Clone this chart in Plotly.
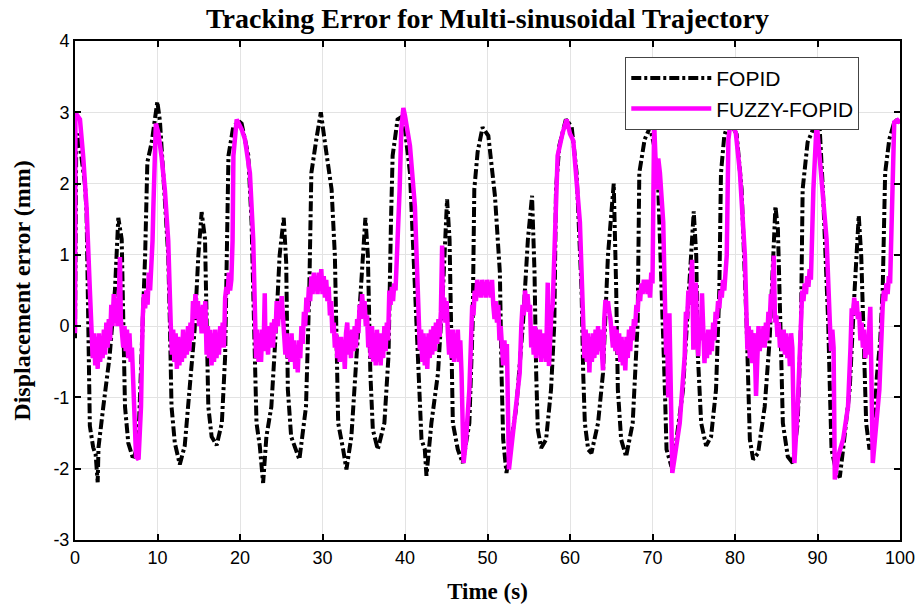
import plotly.graph_objects as go

# FOPID tracking error (black dash-dot)
fopid_t = [0.0, 0.15, 0.4, 1.2, 1.4, 1.6, 1.8, 2.2, 2.5, 2.75, 2.85, 3.4, 4.2, 4.85, 5.25, 5.66, 5.9, 6.06, 6.46, 7.07,
           7.67, 8.08, 8.5, 8.77, 9.3, 9.98, 10.3, 10.9, 11.3, 11.5, 11.7, 12.1, 12.7, 13.3, 13.9, 14.5, 14.95, 15.35, 15.76, 15.96,
           16.16, 16.56, 17.17, 17.8, 18.2, 18.4, 18.6, 19.2, 20.0, 20.2, 21.0, 21.4, 21.8, 22.0, 22.4, 22.8, 23.2, 23.8, 24.4, 24.8,
           25.3, 25.6, 25.8, 26.2, 27.2, 28.0, 28.4, 28.65, 29.25, 29.8, 30.3, 31.1, 31.5, 31.7, 31.9, 32.5, 32.9, 33.5, 34.1, 34.7,
           35.2, 35.5, 35.8, 36.1, 36.7, 37.5, 38.0, 38.3, 38.5, 39.1, 39.8, 40.6, 41.4, 41.8, 42.0, 42.4, 42.6, 43.2, 44.0, 44.6,
           45.1, 45.4, 45.6, 45.8, 46.4, 47.0, 47.8, 48.2, 48.4, 48.8, 49.4, 50.1, 50.9, 51.5, 51.7, 51.9, 52.3, 52.7, 53.5, 54.3,
           54.9, 55.4, 55.7, 55.9, 56.1, 56.5, 57.1, 57.7, 58.1, 58.3, 58.7, 59.5, 60.2, 60.8, 61.4, 61.6, 61.8, 62.2, 62.6, 63.4,
           64.0, 64.6, 65.3, 65.6, 65.8, 66.2, 66.8, 67.6, 68.2, 68.4, 69.05, 69.7, 70.2, 70.7, 71.3, 71.5, 71.7, 72.3, 72.9, 73.7,
           74.3, 75.0, 75.3, 75.5, 75.9, 76.5, 77.1, 77.7, 78.1, 78.3, 78.7, 79.3, 80.2, 80.8, 81.4, 81.6, 81.8, 82.2, 82.8, 83.6,
           84.2, 84.9, 85.2, 85.6, 85.8, 86.4, 87.0, 87.6, 88.0, 88.2, 88.8, 89.45, 90.25, 90.65, 91.3, 91.5, 91.7, 92.3, 92.7, 93.1,
           93.9, 94.5, 95.0, 95.3, 95.6, 95.9, 96.3, 96.8, 97.2, 97.6, 97.9, 98.2, 98.7, 99.3, 99.7, 100.0]
fopid_e = [-0.17, 2.6, 2.7, 2.0, 1.6, 0.3, -1.4, -1.7, -1.8, -2.19, -1.7, -1.16, -0.42, 0.52, 1.52, 1.22, 0.04, -1.13, -1.64, -1.87,
           -1.64, -0.42, 0.99, 2.3, 2.58, 3.15, 2.87, 1.75, 0.99, 0.04, -1.13, -1.64, -1.94, -1.68, -0.89, -0.05, 0.99, 1.6, 1.22, 0.04,
           -1.13, -1.55, -1.67, -1.36, -0.42, 0.99, 2.39, 2.81, 2.86, 2.84, 2.4, 1.46, -0.42, -1.36, -1.68, -2.2, -1.55, -1.13, 0.04, 0.99,
           1.52, 0.89, -0.89, -1.55, -1.87, -1.13, 0.51, 2.15, 2.62, 3.0, 2.57, 1.92, 0.99, -0.42, -1.36, -1.73, -2.01, -1.55, -0.42, 0.75,
           1.52, 0.99, -0.66, -1.45, -1.73, -1.36, -0.42, 1.46, 2.39, 2.9, 2.95, 2.15, 0.04, -0.89, -1.59, -1.73, -2.1, -1.36, -0.66, 0.51,
           1.78, 1.22, -0.42, -1.36, -1.73, -1.92, -1.36, 0.04, 1.92, 2.44, 2.79, 2.67, 1.83, 0.75, -0.66, -1.59, -2.06, -1.73, -1.13, 0.04,
           1.22, 1.83, 0.75, -0.66, -1.45, -1.71, -1.59, -0.89, 0.04, 1.92, 2.53, 2.9, 2.8, 2.15, 0.51, -0.66, -1.36, -1.73, -1.78, -1.36,
           -0.66, 0.99, 2.0, 0.51, -0.89, -1.59, -1.83, -1.36, 0.04, 2.15, 2.62, 2.79, 2.53, 1.92, 0.04, -0.89, -1.73, -1.97, -1.59, -0.89,
           0.28, 1.61, 0.99, -0.42, -1.36, -1.68, -1.55, -0.89, 0.51, 2.15, 2.67, 2.89, 2.69, 1.92, 0.04, -0.89, -1.59, -1.87, -1.78, -1.13,
           -0.19, 1.68, 1.36, -0.42, -1.36, -1.83, -1.92, -1.36, 0.04, 1.92, 2.58, 2.76, 2.81, 1.92, 0.04, -0.89, -1.73, -2.06, -2.12, -1.73,
           -0.89, 0.51, 1.55, 0.99, -0.42, -1.36, -1.73, -1.5, -0.7, -0.2, 0.51, 2.15, 2.62, 2.86, 2.9, 2.85]

# FUZZY-FOPID tracking error (magenta solid), one row per stretch of the record
fuzzy_t = [
    0.0, 0.05, 0.3, 0.6, 1.0, 1.4, 1.8, 2.0,
    2.15, 2.3, 2.45, 2.6, 2.75, 2.9, 3.05, 3.2, 3.35, 3.5, 3.65, 3.8, 3.95, 4.1, 4.25, 4.4, 4.55, 4.7, 4.85, 5.0, 5.15, 5.3,
    5.45, 5.55, 5.7, 5.85, 6.0, 6.15, 6.3, 6.45, 6.6, 6.75, 6.9, 7.05, 7.4, 7.7, 8.0, 8.2, 8.35, 8.5, 8.65, 8.8,
    8.95, 9.1, 9.25, 9.4, 9.5, 9.8,
    10.1, 10.5, 10.9, 11.3, 11.6, 11.75, 11.9, 12.05, 12.2, 12.35, 12.5, 12.65, 12.8, 12.95, 13.1, 13.25, 13.4, 13.55, 13.7, 13.85,
    14.0, 14.15, 14.3, 14.45, 14.6, 14.75, 14.9, 15.05, 15.2, 15.35, 15.5, 15.65, 15.8, 15.95, 16.1, 16.25, 16.4, 16.55, 16.7, 16.85,
    17.0, 17.15, 17.3, 17.45, 17.6, 17.75, 17.9, 18.05, 18.2, 18.35, 18.5, 18.65, 18.8, 18.95, 19.1, 19.2, 19.6,
    20.2, 20.6, 21.2, 21.6, 21.8, 21.95, 22.1, 22.25, 22.4, 22.55, 22.7, 22.85, 23.0, 23.1, 23.25, 23.4, 23.55, 23.7, 23.85, 24.0,
    24.15, 24.3, 24.45, 24.6, 24.75, 24.9, 25.05, 25.2, 25.35, 25.5, 25.65, 25.8, 25.95, 26.1, 26.25, 26.4, 26.55, 26.7, 26.85, 27.0,
    27.15, 27.3, 27.45, 27.6, 27.75, 27.9, 28.05, 28.2, 28.35, 28.5, 28.65, 28.8, 28.95, 29.1, 29.25, 29.4, 29.55, 29.7, 29.85,
    30.0, 30.15, 30.3, 30.45, 30.6, 30.75, 30.9, 31.05, 31.2, 31.35, 31.5, 31.65, 31.8, 31.95, 32.1, 32.25, 32.4, 32.55, 32.7, 32.85,
    33.0, 33.15, 33.3, 33.45, 33.6, 33.75, 33.9, 34.05, 34.2, 34.35, 34.5, 34.65, 34.8, 34.95, 35.1, 35.25, 35.4, 35.55, 35.7, 35.85,
    36.0, 36.15, 36.3, 36.45, 36.6, 36.75, 36.9, 37.05, 37.2, 37.35, 37.5, 37.65, 37.8, 37.95, 38.1, 38.25, 38.4, 38.55, 38.7, 38.85,
    39.0, 39.2, 39.35, 39.55, 39.8,
    40.0, 40.6, 41.2, 41.6, 41.8, 41.95, 42.1, 42.25, 42.4, 42.55, 42.7, 42.85, 43.0, 43.15, 43.3, 43.45, 43.6, 43.75, 43.9, 44.05,
    44.2, 44.35, 44.5, 44.6, 44.75, 44.9, 45.05, 45.2, 45.35, 45.5, 45.65, 45.8, 45.95, 46.1, 46.25, 46.4, 46.55, 46.7, 46.85, 47.1,
    47.4, 47.8, 48.0, 48.15, 48.3, 48.45, 48.6, 48.75, 48.9, 49.05, 49.2, 49.35, 49.5, 49.65, 49.8, 49.95,
    50.1, 50.25, 50.4, 50.55, 50.7, 50.85, 51.0, 51.15, 51.3, 51.45, 51.6, 51.75, 51.9, 52.05, 52.2, 52.35, 52.6, 53.0, 53.5, 53.9,
    54.1, 54.25, 54.4, 54.55, 54.7, 54.85, 55.0, 55.15, 55.3, 55.45, 55.6, 55.75, 55.9, 56.05, 56.2, 56.35, 56.5, 56.65, 56.8, 56.95,
    57.1, 57.3, 57.45, 57.6, 57.75, 57.9, 58.05, 58.25, 58.5, 59.1, 59.6,
    60.0, 60.4, 61.2, 61.6, 61.75, 61.9, 62.05, 62.2, 62.35, 62.5, 62.65, 62.8, 62.95, 63.1, 63.25, 63.4, 63.55, 63.7, 63.85, 64.0,
    64.15, 64.3, 64.45, 64.6, 64.75, 64.9, 65.05, 65.2, 65.35, 65.5, 65.65, 65.8, 65.95, 66.1, 66.25, 66.4, 66.55, 66.7, 66.85, 67.0,
    67.15, 67.3, 67.45, 67.6, 67.75, 67.9, 68.05, 68.2, 68.35, 68.5, 68.65, 68.8, 68.95, 69.1, 69.25, 69.4, 69.55, 69.7, 69.85,
    70.0, 70.2, 70.5, 70.7, 70.9, 71.3, 71.5, 71.65, 71.8, 71.9, 72.05, 72.2, 72.4, 72.7, 73.3, 73.9, 74.05, 74.2, 74.35, 74.5,
    74.65, 74.8, 74.95, 75.1, 75.25, 75.4, 75.55, 75.7, 75.85, 76.0, 76.15, 76.3, 76.45, 76.6, 76.75, 76.9, 77.05, 77.2, 77.35, 77.5,
    77.65, 77.8, 77.95, 78.1, 78.25, 78.4, 78.55, 78.7, 78.85, 79.0, 79.2, 79.5,
    80.1, 80.6, 81.2, 81.5, 81.65, 81.8, 81.95, 82.1, 82.25, 82.4, 82.55, 82.7, 82.85, 83.0, 83.15, 83.3, 83.45, 83.6, 83.75, 83.9,
    84.05, 84.2, 84.35, 84.5, 84.7, 84.85, 85.0, 85.15, 85.3, 85.45, 85.6, 85.75, 85.9, 86.05, 86.2, 86.35, 86.5, 86.65, 86.8, 86.95,
    87.2, 87.6, 88.0, 88.15, 88.3, 88.45, 88.6, 88.75, 88.9, 89.05, 89.2, 89.35, 89.5, 89.9,
    90.25, 90.7, 91.1, 91.5, 91.65, 91.8, 91.95, 92.1, 92.5, 93.1, 93.7, 94.0, 94.15, 94.3, 94.45, 94.6, 94.75, 94.9, 95.05, 95.2,
    95.35, 95.5, 95.65, 95.8, 95.95, 96.1, 96.25, 96.4, 96.7, 97.0, 97.5, 97.9, 98.05, 98.2, 98.35, 98.5, 98.65, 98.8, 99.0, 99.3,
    99.7, 100.0]
fuzzy_e = [
    -0.1, 3.0, 2.95, 2.9, 2.37, 1.67, 0.51, 0.04,
    -0.45, -0.1, -0.55, -0.15, -0.6, -0.1, -0.5, -0.15, -0.45, -0.05, -0.4, 0.05, -0.3, 0.1, -0.2, 0.3, 0.0, 0.45, 0.05, 0.4, 0.0, 0.35,
    0.97, 0.1, -0.1, -0.3, 0.0, -0.35, -0.05, -0.45, -0.1, -0.5, -0.3, -0.8, -1.83, -1.87, -1.13, 0.1, 0.45, 0.25, 0.5, 0.3,
    0.75, 0.5, 0.8, 1.2, 1.68, 2.84,
    2.71, 2.37, 1.9, 1.2, 0.04, -0.4, -0.05, -0.5, -0.1, -0.6, -0.15, -0.55, -0.2, -0.5, -0.05, -0.45, -0.1, -0.4, 0.0, -0.35,
    0.05, -0.2, 0.35, 0.1, 0.45, 0.2, 0.35, 0.0, 0.2, -0.1, 0.3, 0.05, 0.35, -0.4, 0.0, -0.45, -0.05, -0.55, -0.1, -0.5,
    -0.05, -0.45, -0.1, -0.4, 0.0, -0.3, 0.05, -0.3, 0.4, 0.55, 0.45, 0.75, 0.5, 0.65, 1.2, 2.39, 2.9,
    2.76, 2.62, 2.15, 1.22, 0.04, -0.45, -0.05, -0.5, -0.1, -0.5, -0.05, -0.35, 0.46, -0.35, -0.05, -0.4, 0.0, -0.3, 0.05, -0.3,
    0.1, -0.1, 0.35, 0.0, 0.3, 0.1, 0.42, 0.05, -0.1, -0.4, -0.1, -0.45, -0.15, -0.5, -0.1, -0.5, -0.2, -0.6, -0.3, -0.65,
    -0.2, -0.45, 0.0, -0.25, 0.2, 0.0, 0.4, 0.2, 0.55, 0.35, 0.7, 0.45, 0.75, 0.5, 0.7, 0.45, 0.75, 0.5, 0.8,
    0.45, 0.7, 0.4, 0.65, 0.35, 0.55, 0.15, 0.35, -0.1, 0.05, -0.3, -0.1, -0.45, -0.2, -0.5, -0.15, -0.45, -0.2, -0.6, -0.1,
    0.05, -0.4, -0.1, -0.45, -0.05, -0.35, 0.0, -0.3, 0.1, -0.1, 0.3, 0.1, 0.45, 0.2, 0.35, 0.0, 0.15, -0.3, -0.05, -0.45,
    0.0, -0.5, -0.1, -0.55, -0.05, -0.5, -0.1, -0.55, -0.1, -0.45, 0.0, -0.35, 0.05, -0.2, 0.5, 0.3, 0.55, 0.35, 0.6, 0.5,
    0.9, 1.5, 1.92, 2.76, 3.06,
    2.95, 2.53, 1.68, 0.51, -0.33, -0.05, -0.5, -0.1, -0.55, -0.15, -0.6, -0.1, -0.45, -0.05, -0.4, 0.0, -0.35, 0.05, -0.25, 0.1,
    -0.15, 0.2, 1.13, 0.1, 0.4, 0.05, 0.35, -0.1, -0.4, -0.05, -0.45, -0.05, -0.5, -0.1, -0.45, -0.05, -0.5, -0.2, -0.65, -1.92,
    -1.59, -0.89, -0.2, 0.3, 0.15, 0.5, 0.35, 0.65, 0.45, 0.6, 0.4, 0.65, 0.45, 0.6, 0.4, 0.65,
    0.45, 0.6, 0.4, 0.65, 0.3, 0.1, 0.35, 0.05, 0.3, -0.2, 0.0, -0.4, -0.55, -0.2, -0.5, -0.25, -2.01, -1.59, -1.13, -0.66,
    0.0, 0.3, 0.15, 0.5, 0.3, 0.45, 0.2, 0.3, -0.3, -0.05, -0.4, 0.0, -0.45, -0.05, -0.4, -0.05, -0.5, -0.1, -0.45, -0.1,
    -0.5, 0.61, -0.56, -0.1, 0.2, 0.3, 0.8, 1.46, 2.39, 2.71, 2.9,
    2.7, 2.6, 1.46, 0.04, -0.45, -0.05, -0.5, -0.1, -0.65, -0.15, -0.5, -0.1, -0.45, -0.05, -0.4, 0.0, -0.35, -0.05, -0.45, -0.62,
    0.1, 0.37, 0.2, 0.35, 0.2, 0.1, -0.1, -0.3, 0.0, -0.35, -0.05, -0.4, -0.1, -0.5, -0.15, -0.55, -0.2, -0.62, -0.15, -0.45,
    -0.05, -0.35, 0.0, -0.2, 0.1, 0.0, 0.3, 0.2, 0.5, 0.35, 0.6, 0.45, 0.65, 0.5, 0.65, 0.45, 0.6, 0.4, 0.75,
    0.6, 2.86, 1.92, 2.35, 2.15, 1.46, 0.04, -0.4, -0.2, -1.0, 0.18, -1.3, -2.06, -1.83, -1.36, -0.42, 0.2, 0.1, 0.5, 0.3,
    0.6, 0.93, -0.33, 0.2, 0.61, 0.0, -0.42, 0.1, -0.2, 0.46, -0.1, -0.52, -0.1, -0.45, -0.05, -0.4, -0.05, -0.35, 0.05, -0.2,
    0.2, 0.1, 0.35, 0.25, 0.5, 0.4, 0.65, 0.5, 0.75, 0.99, 2.62, 2.9,
    2.71, 2.15, 0.99, -0.33, 0.0, -0.45, -0.05, -0.52, -0.1, -0.3, -0.98, -0.1, 0.0, -0.35, -0.05, -0.3, 0.0, -0.3, 0.05, -0.2,
    0.2, 0.05, 0.45, 0.3, 0.99, 0.05, 0.15, -0.15, 0.05, -0.3, -0.05, -0.35, -0.05, -0.4, -0.1, -0.45, -0.15, -0.56, -0.1, -0.3,
    -1.92, -1.13, 0.28, 0.5, 0.35, 0.6, 0.45, 0.7, 0.55, 0.8, 0.65, 1.2, 1.92, 2.86,
    2.39, 1.92, 1.22, 0.04, -0.35, -0.05, -0.3, -2.15, -1.83, -1.59, -1.13, -0.3, 0.25, 0.15, 0.4, 0.2, 0.35, 0.1, 0.2, -0.2,
    0.05, -0.3, -0.05, -0.45, -0.2, -0.4, 0.1, 0.27, -1.92, -1.59, -0.89, 0.28, 0.5, 0.35, 0.6, 0.45, 0.7, 0.6, 1.46, 2.86,
    2.89, 2.85]

x_ticks = [0, 10, 20, 30, 40, 50, 60, 70, 80, 90, 100]
y_ticks = [-3, -2, -1, 0, 1, 2, 3, 4]
y_labels = ['-3', '-2', '-1', '0', '1', '2', '3', '4']

fig = go.Figure()

fig.add_trace(go.Scatter(name='FOPID', x=fopid_t, y=fopid_e, mode='lines',
                         line=dict(color='black', width=4, dash='10px,3px,3px,3px')))
fig.add_trace(go.Scatter(name='FUZZY-FOPID', x=fuzzy_t, y=fuzzy_e, mode='lines',
                         line=dict(color='#ff00ff', width=4.5)))

serif = "Liberation Serif, Times New Roman, serif"
sans = "Liberation Sans, Arial, sans-serif"

fig.update_layout(
    width=917, height=605,
    margin=dict(l=75, r=17, t=41, b=65),
    paper_bgcolor='white', plot_bgcolor='white',
    title=dict(text="<b>Tracking Error for Multi-sinusoidal Trajectory</b>",
               x=0.5, xref='paper', xanchor='center', y=0.97, yanchor='middle',
               font=dict(family=serif, size=28, color='black')),
    legend=dict(x=0.667, y=0.968, xanchor='left', yanchor='top',
                bgcolor='white', bordercolor='#444444', borderwidth=1,
                font=dict(family=sans, size=21, color='black'),
                itemwidth=80, tracegroupgap=0),
)

fig.update_xaxes(range=[0, 100], tickvals=x_ticks, ticks='inside', ticklen=6, tickwidth=1.5,
                 tickcolor='black', showline=True, linecolor='black', linewidth=2, mirror='ticks',
                 showgrid=True, gridcolor='#e3e3e3', gridwidth=1, zeroline=False, automargin=False,
                 tickfont=dict(family=sans, size=18, color='black'),
                 title=dict(text="<b>Time (s)</b>", font=dict(family=serif, size=23, color='black'), standoff=16))
fig.update_yaxes(range=[-3, 4], tickvals=y_ticks, ticktext=y_labels, ticks='inside', ticklen=6, tickwidth=1.5,
                 tickcolor='black', showline=True, linecolor='black', linewidth=2, mirror='ticks',
                 showgrid=True, gridcolor='#e3e3e3', gridwidth=1, zeroline=False, automargin=False,
                 tickfont=dict(family=sans, size=18, color='black'),
                 title=dict(text="<b>Displacement error (mm)</b>", font=dict(family=serif, size=24, color='black'), standoff=16))

# drop the default page margin so the figure sits flush with the window
fig.write_html("out.html", config={'displayModeBar': False},
               post_script="document.body.style.margin='0';")
